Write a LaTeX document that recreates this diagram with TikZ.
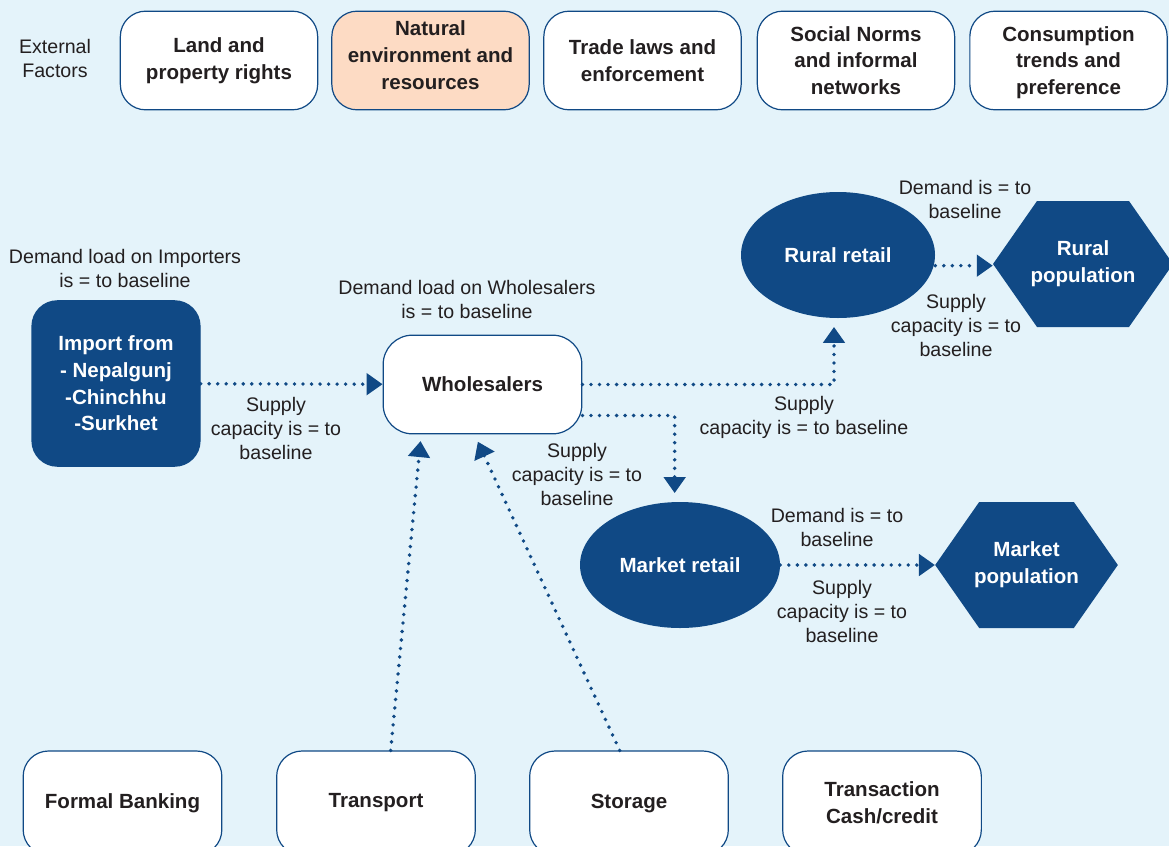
\documentclass[tikz,border=0pt]{standalone}
\usepackage{fontspec}
\setmainfont{Liberation Sans}
\usetikzlibrary{arrows.meta,calc,shapes.geometric}

\definecolor{navy}{RGB}{16,73,133}
\definecolor{paleblue}{RGB}{228,243,250}
\definecolor{peach}{RGB}{253,219,196}
\definecolor{ink}{RGB}{35,31,32}

\tikzset{
  factor/.style={draw=navy, line width=0.9pt, fill=white, rounded corners=19pt,
    minimum width=148pt, minimum height=74pt, align=center, text=ink,
    font=\fontsize{15.4}{20}\selectfont\bfseries},
  actor/.style={factor, fill=navy, text=white},
  retail/.style={ellipse, fill=navy, text=white, minimum width=145.5pt,
    minimum height=94.5pt, font=\fontsize{15.4}{20}\selectfont\bfseries},
  % hexagon pointing left and right, filled inside the node box
  popn/.style={minimum height=94.5pt, text=white, align=center,
    font=\fontsize{15.4}{20}\selectfont\bfseries,
    path picture={\fill[navy] (path picture bounding box.west)
      -- ([xshift=33pt]path picture bounding box.north west)
      -- ([xshift=-33pt]path picture bounding box.north east)
      -- (path picture bounding box.east)
      -- ([xshift=-33pt]path picture bounding box.south east)
      -- ([xshift=33pt]path picture bounding box.south west) -- cycle;}},
  note/.style={align=center, text=ink, font=\fontsize{14.7}{18}\selectfont},
  flow/.style={navy, line width=2.9pt, line cap=round, dash pattern=on 0pt off 6.4pt,
    -{Triangle[length=12pt,width=16pt]}},
}

\begin{document}
\begin{tikzpicture}[x=0.75pt,y=-0.75pt]
 \clip (0,0) rectangle (1169,846);
 \fill[paleblue] (0,0) rectangle (1169,846);

 % external factors along the top
 \node[note] (ext) at (55,58) {External\\Factors};
 \node[factor] (land) at (219,60.5) {Land and\\property rights};
 \node[factor, fill=peach, text depth=8.4pt] (nature) at (430.5,60.5) {Natural\\environment and\\resources};
 \node[factor] (trade) at (642.5,60.5) {Trade laws and\\enforcement};
 \node[factor] (norms) at (856,60.5) {Social Norms\\and informal\\networks};
 \node[factor, text depth=0pt] (trends) at (1068.5,60.5) {Consumption\\trends and\\preference};

 % market chain
 \node[actor, minimum width=126pt, minimum height=124pt] (imp) at (116,383.5)
   {Import from\\- Nepalgunj\\-Chinchhu\\-Surkhet};
 \node[factor, minimum width=149pt, rounded corners=22pt] (whole) at (482.5,384.5) {Wholesalers};
 \node[retail] (rural) at (838,255) {Rural retail};
 \node[retail, minimum width=150pt] (mkt) at (680,565) {Market retail};
 \node[popn, minimum width=135pt] (rpop) at (1083,264) {Rural\\population};
 \node[popn, minimum width=137pt] (mpop) at (1026.5,565) {Market\\population};

 % services along the bottom
 \node[factor, minimum width=149pt, minimum height=78pt] (bank) at (122.5,803) {Formal Banking};
 \node[factor, minimum width=149pt, minimum height=78pt] (trans) at (376,803) {Transport};
 \node[factor, minimum width=149pt, minimum height=78pt] (stor) at (629,803) {Storage};
 \node[factor, minimum width=149pt, minimum height=78pt] (cash) at (882,803) {Transaction\\Cash/credit};

 % load and capacity notes
 \node[note] (dimp) at (125,268) {Demand load on Importers\\is = to baseline};
 \node[note] (dwhole) at (467,299) {Demand load on Wholesalers\\is = to baseline};
 \node[note] (simp) at (276,428) {Supply\\capacity is = to\\baseline};
 \node[note] (srural) at (804,417) {Supply\\capacity is = to baseline};
 \node[note] (smkt) at (577,474) {Supply\\capacity is = to\\baseline};
 \node[note] (drpop) at (965,199) {Demand is = to\\baseline};
 \node[note] (srpop) at (956,325) {Supply\\capacity is = to\\baseline};
 \node[note] (dmpop) at (837,527) {Demand is = to\\baseline};
 \node[note] (smpop) at (842,611) {Supply\\capacity is = to\\baseline};

 % flows
 \draw[flow] (imp) -- (whole);
 \draw[flow, shorten >=6.5pt] (whole.east) -| ([xshift=-3pt]rural.south);
 \draw[flow, shorten >=6.5pt] ($(whole.east)+(0,31)$) -| ([xshift=-4pt]mkt.north);
 \coordinate (rtail) at ([yshift=-8pt]rural.east);
 \draw[flow] (rtail) -- (rtail -| rpop.west);
 \draw[flow] (mkt) -- (mpop);
 \draw[flow, shorten >=5pt] ([xshift=11pt]trans.north) -- ([xshift=-46pt]whole.south);
 \draw[flow, shorten >=6pt] ([xshift=-7pt]stor.north) -- ([xshift=-6pt]whole.south);
\end{tikzpicture}
\end{document}
